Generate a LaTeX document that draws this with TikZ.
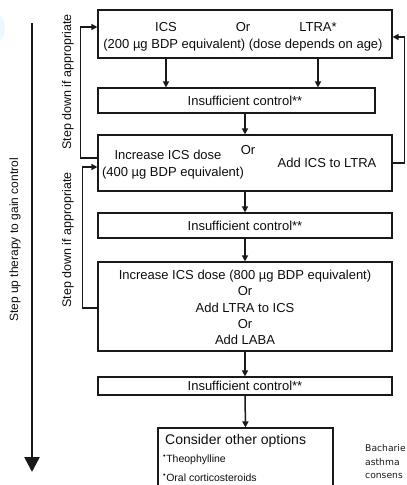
\documentclass[tikz,border=0pt]{standalone}
\usepackage{fontspec}
\setmainfont{Liberation Sans}
\newfontfamily\citefont{DejaVu Sans}
\usetikzlibrary{arrows.meta,positioning,calc}
\tikzset{
  stepbox/.style={draw=black!90, line width=1.2pt, inner sep=0pt},
  link/.style={draw=black!90, line width=1.5pt, -{Triangle[length=6pt,width=6pt]}},
  txt/.style={text=black!95, inner sep=0pt, font=\fontsize{13}{15}\selectfont},
  sidetxt/.style={text=black!95, inner sep=0pt, rotate=90, font=\fontsize{12.5}{14}\selectfont},
}
\begin{document}
\begin{tikzpicture}[x=1pt,y=-1pt]
	\useasboundingbox (0,0) rectangle (407,485);
	
	% faint bit of a picture at the left edge
	\fill[cyan!8] (-8,28) ellipse (13 and 17);
	
	% boxes
	\node[stepbox, minimum width=294pt, minimum height=48pt] (start) at (245,34) {};
	\node[stepbox, minimum width=277pt, minimum height=25pt] (ctrl1) at (236.5,100.5) {};
	\node[stepbox, minimum width=294pt, minimum height=56pt] (step2) at (245,163) {};
	\node[stepbox, minimum width=294pt, minimum height=25pt] (ctrl2) at (245,225.5) {};
	\node[stepbox, minimum width=294pt, minimum height=89pt] (step3) at (245,306.5) {};
	\node[stepbox, minimum width=294pt, minimum height=18pt] (ctrl3) at (245,386) {};
	\node[stepbox, minimum width=175pt, minimum height=70pt] (other) at (245.5,463) {};
	
	% texts
	\node[txt] (ics) at (166,27) {ICS};
	\node[txt] (or1) at (243,27) {Or};
	\node[txt] (ltra) at (318,27) {LTRA*};
	\node[txt] (dose1) at (243,45) {(200 µg BDP equivalent) (dose depends on age)};
	\node[txt] (ins1) at (245,100.5) {Insufficient control**};
	\node[txt] (inc1) at (168,155) {Increase ICS dose};
	\node[txt] (dose2) at (173,173) {(400 µg BDP equivalent)};
	\node[txt] (or2) at (248,150) {Or};
	\node[txt] (add1) at (327,163) {Add ICS to LTRA};
	\node[txt] (ins2) at (245,225.5) {Insufficient control**};
	\node[txt, align=center, font=\fontsize{13}{16.3}\selectfont] (opts) at (245,307.5) {Increase ICS dose (800 µg BDP equivalent)\\Or\\Add LTRA to ICS\\Or\\Add LABA};
	\node[txt] (ins3) at (245,386) {Insufficient control**};
	\node[txt, anchor=west, font=\fontsize{14}{16}\selectfont] (cons) at (165,441) {Consider other options};
	\node[txt, anchor=west, font=\fontsize{10.5}{12}\selectfont] (theo) at (163,460) {\textsuperscript{•}Theophylline};
	\node[txt, anchor=west, font=\fontsize{10.5}{12}\selectfont] (oral) at (163,478) {\textsuperscript{•}Oral corticosteroids};
	
	\node[sidetxt, font=\fontsize{12}{14}\selectfont] (gain) at (15,240) {Step up therapy to gain control};
	\node[sidetxt] (down1) at (68,82) {Step down if appropriate};
	\node[sidetxt] (down2) at (68,240) {Step down if appropriate};
	
	\node[anchor=west, align=left, text=black!90, inner sep=0pt, font=\citefont\fontsize{9.2}{13.5}\selectfont] (cite) at (365,462) {Bacharie\\asthma\\consens};
	
	% arrows
	\draw[link] (ics |- start.south) -- (ics |- ctrl1.north);
	\draw[link] (ltra |- start.south) -- (ltra |- ctrl1.north);
	\draw[link] (step2.north |- ctrl1.south) -- (step2.north);
	\draw[link] (step2.south) -- (ctrl2.north);
	\draw[link] (ctrl2.south) -- (step3.north);
	\draw[link] (step3.south) -- (ctrl3.north);
	\draw[link] (ctrl3.south) -- (other.north);
	
	\draw[link] ([yshift=5pt]step2.west) -- ++(-17,0) |- ([yshift=7pt]start.west);
	\draw[link] ([yshift=-1.5pt]step3.west) -- ++(-15,0) |- ([yshift=-4pt]step2.west);
	\draw[link] (step2.east) -- ++(12,0) |- ([yshift=-3pt]start.east);
	
	\coordinate (up) at (32,23);
	\coordinate (tip) at (32,472);
	\draw[draw=black!90, line width=2.6pt, -{Triangle[length=15pt,width=15pt]}] (up) -- (tip);
\end{tikzpicture}
\end{document}
